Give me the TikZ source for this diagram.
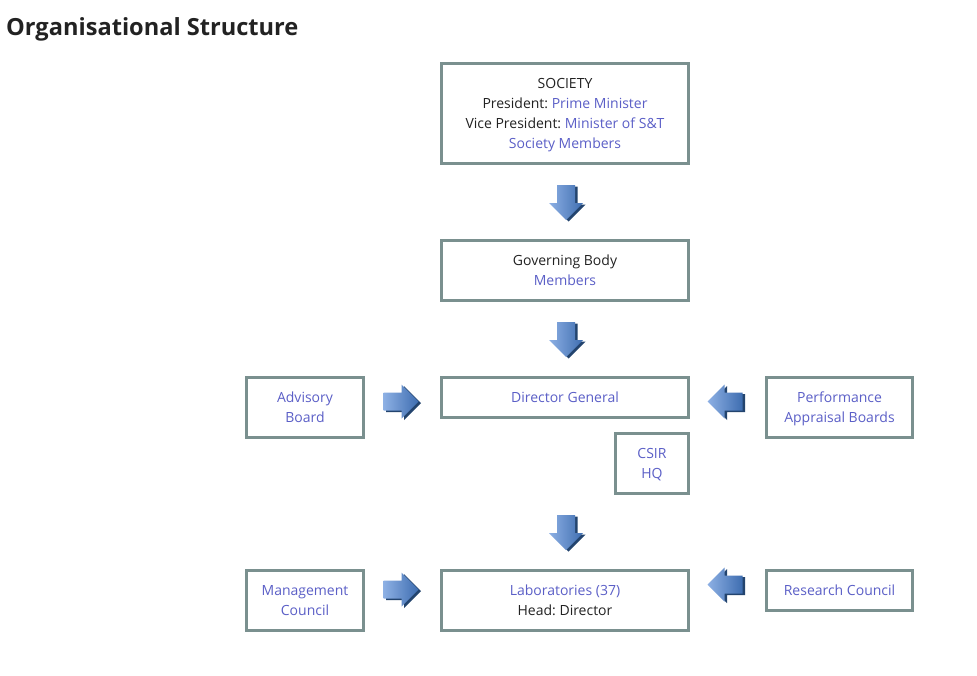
\documentclass[tikz,border=0pt]{standalone}
\usepackage{fontspec}
\setmainfont{Open Sans}
\usetikzlibrary{calc}
\frenchspacing
\definecolor{boxline}{HTML}{7A908F}
\definecolor{lnk}{HTML}{5B5FC7}
\definecolor{txt}{HTML}{222222}
\definecolor{arrdark}{HTML}{23446E}
\definecolor{arrlight}{HTML}{8DB0E4}
\definecolor{arrmid}{HTML}{3E6DB0}
\newcommand{\lk}[1]{\textcolor{lnk}{#1}}
\newcommand{\tst}{\rule{0pt}{15.4pt}}
\newcommand{\bst}{\rule[-4.6pt]{0pt}{4.6pt}}
\tikzset{
  x=1pt, y=-1pt,
  orgbox/.style={draw=boxline, line width=3pt, fill=white, inner sep=0pt,
    align=center, text=txt, font=\fontsize{14}{20}\selectfont\frenchspacing},
  pics/barrow/.style={code={
    \fill[arrdark, shift={(2.5,1.5)}, rotate=#1] (-9,-17) -- (9,-17) -- (9,1) -- (17,1) -- (0,18) -- (-17,1) -- (-9,1) -- cycle;
    \shade[left color=arrlight, right color=arrmid, rotate=#1] (-9,-17) -- (9,-17) -- (9,1) -- (17,1) -- (0,18) -- (-17,1) -- (-9,1) -- cycle;
  }}
}
\begin{document}
\begin{tikzpicture}
\useasboundingbox[fill=white] (0,0) rectangle (977,675);
\node[anchor=base west, inner sep=0pt, text=txt, font=\bfseries\fontsize{23.6}{28}\selectfont] (title) at (6,35.5) {Organisational Structure};

\node[orgbox, minimum width=247, minimum height=100] (soc) at (565,113.5)
  {\tst SOCIETY\\President: \lk{Prime Minister}\\Vice President: \lk{Minister of S\&T}\\\lk{Society Members}\bst};
\node[orgbox, minimum width=247, minimum height=60] (gov) at (565,270.5)
  {\tst Governing Body\\\lk{Members}\bst};
\node[orgbox, minimum width=247, minimum height=40] (dg) at (565,397.5)
  {\tst\lk{Director General}\bst};
\node[orgbox, minimum width=73, minimum height=60] (csir) at (652,463.5)
  {\tst\lk{CSIR}\\\lk{HQ}\bst};
\node[orgbox, minimum width=117, minimum height=60] (adv) at (305,407.5)
  {\tst\lk{Advisory}\\\lk{Board}\bst};
\node[orgbox, minimum width=146, minimum height=60] (perf) at (839.5,407.5)
  {\tst\lk{Performance}\\\lk{Appraisal Boards}\bst};
\node[orgbox, minimum width=117, minimum height=60] (mgmt) at (305,600.5)
  {\tst\lk{Management}\\\lk{Council}\bst};
\node[orgbox, minimum width=247, minimum height=60] (labs) at (565,600.5)
  {\tst\lk{Laboratories (37)}\\Head: Director\bst};
\node[orgbox, minimum width=146, minimum height=40] (res) at (839.5,590.5)
  {\tst\lk{Research Council}\bst};

\coordinate (a1) at ($(soc.south)!0.5!(gov.north)$);
\coordinate (a2) at ($(gov.south)!0.5!(dg.north)$);
\coordinate (a3m) at ($(csir.south)!0.5!(labs.north)$);
\coordinate (a3) at (labs.north |- a3m);
\coordinate (a4) at ($(adv.east)!0.5!(dg.west)$);
\coordinate (a5) at ($(dg.east)!0.5!(perf.west)$);
\coordinate (a6) at ($($(mgmt.east)!0.5!(labs.west)$)+(0,-11)$);
\coordinate (a7) at ($($(labs.east)!0.5!(res.west)$)+(0,-11)$);

\pic at ($(a1)+(1,0)$) {barrow=0};
\pic at ($(a2)+(1,0)$) {barrow=0};
\pic at ($(a3)+(1,0)$) {barrow=0};
\pic at ($(a4)+(-2,-1)$) {barrow=90};
\pic at ($(a5)+(-2,-1)$) {barrow=-90};
\pic at ($(a6)+(-2,0)$) {barrow=90};
\pic at ($(a7)+(-2,0)$) {barrow=-90};
\end{tikzpicture}
\end{document}
